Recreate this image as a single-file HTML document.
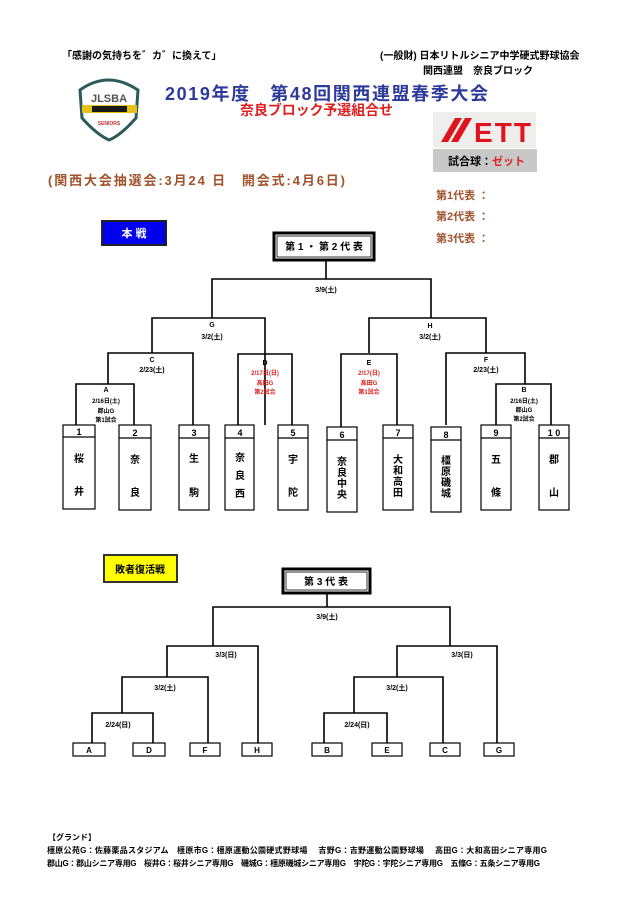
<!DOCTYPE html>
<html><head><meta charset="utf-8"><style>
body{margin:0;background:#fff;width:640px;height:909px;overflow:hidden}
svg{display:block}
text{font-family:"Liberation Sans","Noto Sans CJK JP",sans-serif;font-weight:bold}
</style></head><body>
<svg width="640" height="909" viewBox="0 0 640 909" xmlns="http://www.w3.org/2000/svg">
<text x="62" y="59" font-size="10">「感謝の気持ちを゛カ゛に換えて」</text>
<text x="380" y="59" font-size="10">(一般財) 日本リトルシニア中学硬式野球協会</text>
<text x="423" y="74" font-size="10">関西連盟　奈良ブロック</text>
<path d="M80 90 Q108 70 138 90 L136 118 Q120 136 109 140 Q96 134 82 118 Z" fill="#fff" stroke="#2b5a5a" stroke-width="3"/>
<text x="109" y="102" font-size="11" text-anchor="middle" fill="#555">JLSBA</text>
<rect x="82" y="105" width="55" height="8" fill="#e6c21a"/>
<rect x="92" y="106" width="35" height="6" fill="#1a1a1a"/>
<text x="109" y="125" font-size="5" text-anchor="middle" fill="#c03030">SENIORS</text>
<text x="165" y="100" font-size="18" fill="#2c3a9a" textLength="323">2019年度　第48回関西連盟春季大会</text>
<text x="240" y="115" font-size="14" fill="#e02020" textLength="153">奈良ブロック予選組合せ</text>
<rect x="433" y="112" width="103" height="36" fill="#eeeeec"/>
<g fill="#e0141e">
<polygon points="441,142 455,118 462,118 448,142"/>
<polygon points="451,142 465,118 472,118 458,142"/>
</g>
<text x="474" y="142" font-size="28" fill="#e0141e" textLength="57" font-weight="900">ETT</text>
<rect x="433" y="149" width="104" height="23" fill="#c8c8c8"/>
<text x="448" y="165" font-size="11">試合球：<tspan fill="#e02020">ゼット</tspan></text>
<text x="48" y="185" font-size="13" fill="#a0522d" textLength="297">(関西大会抽選会:3月24 日　開会式:4月6日)</text>
<g fill="#a0522d" font-size="11">
<text x="436" y="199">第1代表 ：</text>
<text x="436" y="220">第2代表 ：</text>
<text x="436" y="242">第3代表 ：</text>
</g>
<rect x="102" y="221" width="64" height="24" fill="#0000ee" stroke="#222" stroke-width="2"/>
<text x="134" y="237" font-size="11" fill="#fff" text-anchor="middle">本 戦</text>
<rect x="274" y="233" width="100" height="27" fill="#fff" stroke="#000" stroke-width="3"/>
<rect x="277" y="236" width="94" height="21" fill="none" stroke="#000" stroke-width="0.8"/>
<text x="324" y="250" font-size="10" text-anchor="middle">第 1 ・ 第 2 代 表</text>
<g stroke="#000" stroke-width="1.6" fill="none">
<path d="M326 260V279M212 318V279H431V318"/>
<path d="M152 353V318H265V425M369 353V318H486V353"/>
<path d="M108 384V353H193V425M446 425V353H525V384"/>
<path d="M76 425V384H134V425M496 425V384H551V425"/>
<path d="M238 425V354H292V425M341 427V354H397V425"/>
</g>
<g font-size="7" text-anchor="middle">
<text x="326" y="292">3/9(土)</text>
<text x="212" y="327">G</text><text x="212" y="339">3/2(土)</text>
<text x="430" y="328">H</text><text x="430" y="339">3/2(土)</text>
<text x="152" y="362">C</text><text x="152" y="372">2/23(土)</text>
<text x="486" y="362">F</text><text x="486" y="372">2/23(土)</text>
<text x="106" y="392">A</text>
<text x="106" y="403" font-size="6">2/16日(土)</text><text x="106" y="413" font-size="6">郡山G</text><text x="106" y="422" font-size="6">第1試合</text>
<text x="524" y="392">B</text>
<text x="524" y="403" font-size="6">2/16日(土)</text><text x="524" y="412" font-size="6">郡山G</text><text x="524" y="421" font-size="6">第2試合</text>
<text x="265" y="365">D</text>
<g fill="#e02020" font-size="6"><text x="265" y="375">2/17日(日)</text><text x="265" y="385">高田G</text><text x="265" y="394">第2試合</text>
<text x="369" y="375">2/17(日)</text><text x="369" y="385">高田G</text><text x="369" y="394">第1試合</text></g>
<text x="369" y="365">E</text>
</g>
<g stroke="#000" stroke-width="1.2" fill="#fff">
<rect x="63" y="425" width="32" height="84"/><path d="M63 437H95"/>
<rect x="119" y="425" width="32" height="85"/><path d="M119 438H151"/>
<rect x="179" y="425" width="30" height="85"/><path d="M179 438H209"/>
<rect x="225" y="425" width="29" height="85"/><path d="M225 438H254"/>
<rect x="278" y="425" width="30" height="85"/><path d="M278 438H308"/>
<rect x="327" y="427" width="30" height="85"/><path d="M327 440H357"/>
<rect x="383" y="425" width="30" height="85"/><path d="M383 438H413"/>
<rect x="431" y="427" width="30" height="85"/><path d="M431 440H461"/>
<rect x="481" y="425" width="30" height="85"/><path d="M481 438H511"/>
<rect x="539" y="425" width="30" height="85"/><path d="M539 438H569"/>
</g>
<g font-size="9" text-anchor="middle">
<text x="79" y="435">1</text><text x="135" y="436">2</text><text x="194" y="436">3</text><text x="240" y="436">4</text><text x="293" y="436">5</text>
<text x="342" y="438">6</text><text x="398" y="436">7</text><text x="446" y="438">8</text><text x="496" y="436">9</text><text x="554" y="436">1 0</text>
</g>
<g font-size="10" text-anchor="middle" style="font-weight:normal">
<text x="79" y="462">桜</text><text x="79" y="495">井</text>
<text x="135" y="463">奈</text><text x="135" y="496">良</text>
<text x="194" y="462">生</text><text x="194" y="496">駒</text>
<text x="240" y="461">奈</text><text x="240" y="479">良</text><text x="240" y="497">西</text>
<text x="293" y="463">宇</text><text x="293" y="496">陀</text>
<text x="342" y="465">奈</text><text x="342" y="476">良</text><text x="342" y="487">中</text><text x="342" y="498">央</text>
<text x="398" y="463">大</text><text x="398" y="474">和</text><text x="398" y="485">高</text><text x="398" y="496">田</text>
<text x="446" y="464">橿</text><text x="446" y="475">原</text><text x="446" y="486">磯</text><text x="446" y="497">城</text>
<text x="496" y="463">五</text><text x="496" y="496">條</text>
<text x="554" y="463">郡</text><text x="554" y="496">山</text>
</g>
<rect x="104" y="555" width="73" height="27" fill="#ffff00" stroke="#333" stroke-width="2"/>
<text x="140" y="573" font-size="10" text-anchor="middle">敗者復活戦</text>
<rect x="283" y="569" width="87" height="24" fill="#fff" stroke="#000" stroke-width="3"/>
<rect x="286" y="572" width="81" height="18" fill="none" stroke="#000" stroke-width="0.8"/>
<text x="326" y="585" font-size="10" text-anchor="middle">第 3 代 表</text>
<g stroke="#000" stroke-width="1.6" fill="none">
<path d="M327 593V607M213 646V607H450V646"/>
<path d="M167 677V646H258V743M497 743V646H397V677"/>
<path d="M122 713V677H208V743M443 743V677H354V713"/>
<path d="M92 743V713H153V743M324 743V713H387V743"/>
</g>
<g stroke="#000" stroke-width="1.2" fill="#fff">
<rect x="73" y="743" width="32" height="13"/><rect x="133" y="743" width="32" height="13"/>
<rect x="190" y="743" width="30" height="13"/><rect x="242" y="743" width="30" height="13"/>
<rect x="312" y="743" width="30" height="13"/><rect x="372" y="743" width="30" height="13"/>
<rect x="430" y="743" width="30" height="13"/><rect x="484" y="743" width="30" height="13"/>
</g>
<g font-size="8" text-anchor="middle">
<text x="89" y="753">A</text><text x="149" y="753">D</text><text x="205" y="753">F</text><text x="257" y="753">H</text>
<text x="327" y="753">B</text><text x="387" y="753">E</text><text x="445" y="753">C</text><text x="499" y="753">G</text>
<text x="327" y="619" font-size="7">3/9(土)</text>
<text x="226" y="657" font-size="7">3/3(日)</text><text x="462" y="657" font-size="7">3/3(日)</text>
<text x="165" y="690" font-size="7">3/2(土)</text><text x="397" y="690" font-size="7">3/2(土)</text>
<text x="118" y="727" font-size="7">2/24(日)</text><text x="357" y="727" font-size="7">2/24(日)</text>
</g>
<g font-size="8" style="font-weight:normal">
<text x="48" y="840">【グランド】</text>
<text x="47" y="853" textLength="500">橿原公苑G：佐藤薬品スタジアム　橿原市G：橿原運動公園硬式野球場　 吉野G：吉野運動公園野球場　 高田G：大和高田シニア専用G</text>
<text x="47" y="866" textLength="493">郡山G：郡山シニア専用G　桜井G：桜井シニア専用G　磯城G：橿原磯城シニア専用G　宇陀G：宇陀シニア専用G　五條G：五条シニア専用G</text>
</g>
</svg>
</body></html>
